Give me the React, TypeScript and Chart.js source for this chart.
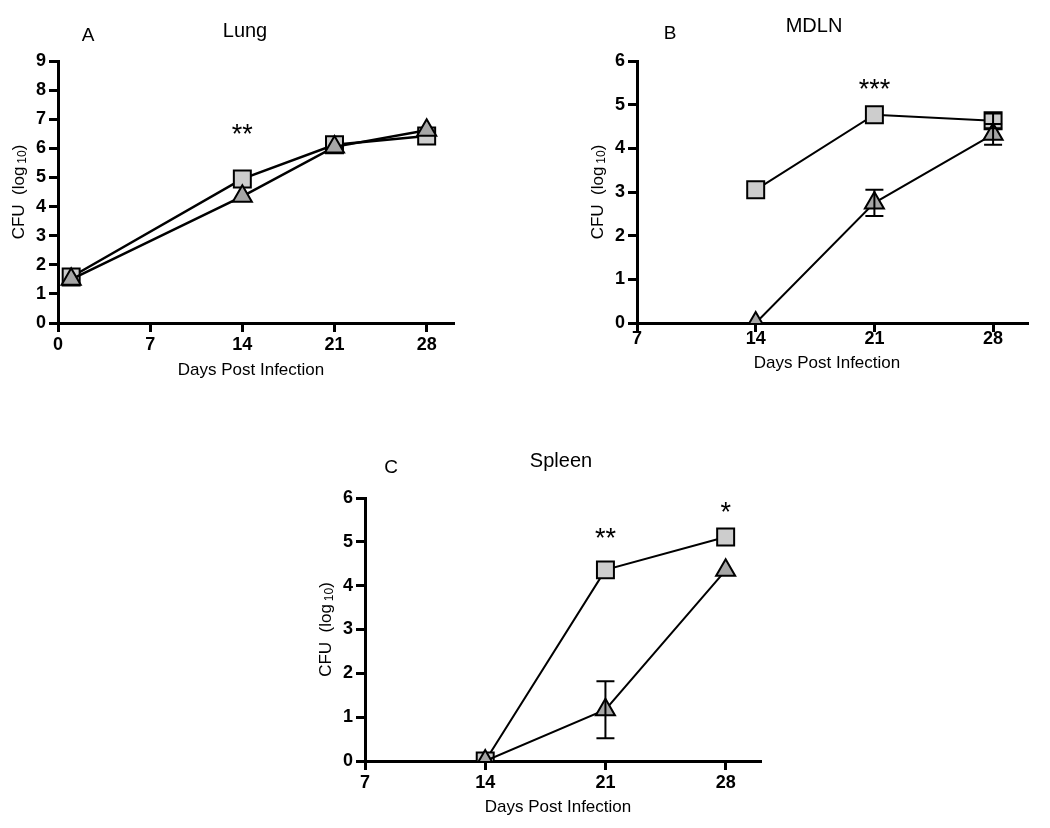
import React, { useEffect, useRef } from 'react';
import { Chart, registerables } from 'chart.js';

Chart.register(...registerables);

const FONT = '"Liberation Sans", Arial, Helvetica, sans-serif';

// ---- Data ----
const lungDays = [1, 14, 21, 28];
const lungSquare = [1.58, 4.95, 6.12, 6.42];
const lungTriangle = [1.5, 4.35, 6.05, 6.62];
const lungXTicks = [0, 7, 14, 21, 28];
const lungYTicks = [0, 1, 2, 3, 4, 5, 6, 7, 8, 9];

const mdlnDays = [14, 21, 28];
const mdlnSquare = [3.05, 4.77, 4.63];
const mdlnSquareErr = [0, 0, 0.17];
const mdlnTriangle = [0, 2.75, 4.32];
const mdlnTriangleErr = [0, 0.3, 0.24];
const mdlnXTicks = [7, 14, 21, 28];
const mdlnYTicks = [0, 1, 2, 3, 4, 5, 6];

const spleenDays = [14, 21, 28];
const spleenSquare = [0, 4.36, 5.11];
const spleenTriangle = [0, 1.17, 4.35];
const spleenTriangleErr = [0, 0.65, 0];
const spleenXTicks = [7, 14, 21, 28];
const spleenYTicks = [0, 1, 2, 3, 4, 5, 6];

const lungStars = [{ x: 14, y: 6.73, text: '**' }];
const mdlnStars = [{ x: 21, y: 5.5, text: '***' }];
const spleenStars = [
  { x: 21, y: 5.23, text: '**' },
  { x: 28, y: 5.84, text: '*' },
];

type Star = { x: number; y: number; text: string };
type Err = { days: number[]; vals: number[]; err: number[] };

type Panel = {
  title: string;
  letter: string;
  days: number[];
  square: number[];
  triangle: number[];
  errors: Err[];
  stars: Star[];
  xMin: number;
  xMax: number;
  yMax: number;
  xTicks: number[];
  yTicks: number[];
  lineWidth: number;
  xTickPad: number;
  area: { left: number; right: number; top: number; bottom: number };
  titlePos: [number, number];
  letterPos: [number, number];
  xTitlePos: [number, number];
};

const W = 1050;
const H = 828;
const Y_W = 50;
const X_H = 40;

const panels: Panel[] = [
  {
    title: 'Lung',
    letter: 'A',
    days: lungDays,
    square: lungSquare,
    triangle: lungTriangle,
    errors: [],
    stars: lungStars,
    xMin: 0,
    xMax: 30,
    yMax: 9,
    xTicks: lungXTicks,
    yTicks: lungYTicks,
    lineWidth: 2.5,
    xTickPad: 2,
    area: { left: 58, right: 453, top: 61, bottom: 323 },
    titlePos: [245, 31],
    letterPos: [88, 36],
    xTitlePos: [251, 370],
  },
  {
    title: 'MDLN',
    letter: 'B',
    days: mdlnDays,
    square: mdlnSquare,
    triangle: mdlnTriangle,
    errors: [
      { days: mdlnDays, vals: mdlnSquare, err: mdlnSquareErr },
      { days: mdlnDays, vals: mdlnTriangle, err: mdlnTriangleErr },
    ],
    stars: mdlnStars,
    xMin: 7,
    xMax: 30,
    yMax: 6,
    xTicks: mdlnXTicks,
    yTicks: mdlnYTicks,
    lineWidth: 2,
    xTickPad: -4,
    area: { left: 637, right: 1027, top: 61, bottom: 323 },
    titlePos: [814, 26],
    letterPos: [670, 34],
    xTitlePos: [827, 363],
  },
  {
    title: 'Spleen',
    letter: 'C',
    days: spleenDays,
    square: spleenSquare,
    triangle: spleenTriangle,
    errors: [{ days: spleenDays, vals: spleenTriangle, err: spleenTriangleErr }],
    stars: spleenStars,
    xMin: 7,
    xMax: 30,
    yMax: 6,
    xTicks: spleenXTicks,
    yTicks: spleenYTicks,
    lineWidth: 2,
    xTickPad: 2,
    area: { left: 365, right: 760, top: 498, bottom: 761 },
    titlePos: [561, 461],
    letterPos: [391, 468],
    xTitlePos: [558, 807],
  },
];

function makePlugin(p: Panel) {
  return {
    id: 'annot',
    afterDatasetsDraw(chart: any) {
      const { ctx, chartArea } = chart;
      const xs = chart.scales.x;
      const ys = chart.scales.y;
      ctx.save();
      // error bars
      ctx.strokeStyle = '#000';
      ctx.lineWidth = 2;
      p.errors.forEach((e) => {
        e.days.forEach((d, i) => {
          const er = e.err[i];
          if (!er) return;
          const px = xs.getPixelForValue(d);
          const t = ys.getPixelForValue(e.vals[i] + er);
          const b = ys.getPixelForValue(e.vals[i] - er);
          ctx.beginPath();
          ctx.moveTo(px, t);
          ctx.lineTo(px, b);
          ctx.moveTo(px - 9, t);
          ctx.lineTo(px + 9, t);
          ctx.moveTo(px - 9, b);
          ctx.lineTo(px + 9, b);
          ctx.stroke();
        });
      });
      // significance stars
      ctx.fillStyle = '#000';
      ctx.textAlign = 'center';
      ctx.textBaseline = 'alphabetic';
      ctx.font = `27px ${FONT}`;
      p.stars.forEach((s) => {
        const px = xs.getPixelForValue(s.x);
        const py = ys.getPixelForValue(s.y);
        ctx.fillText(s.text, px, py + 15.5);
      });
      // titles
      ctx.textBaseline = 'middle';
      ctx.font = `20px ${FONT}`;
      ctx.fillText(p.title, p.titlePos[0], p.titlePos[1]);
      ctx.font = `19px ${FONT}`;
      ctx.fillText(p.letter, p.letterPos[0], p.letterPos[1]);
      ctx.font = `17px ${FONT}`;
      ctx.fillText('Days Post Infection', p.xTitlePos[0], p.xTitlePos[1]);
      // y title with subscript
      const cy = (chartArea.top + chartArea.bottom) / 2;
      const bx = chartArea.left - 34;
      ctx.translate(bx, cy);
      ctx.rotate(-Math.PI / 2);
      ctx.textBaseline = 'alphabetic';
      ctx.textAlign = 'left';
      const main = 'CFU  (log';
      ctx.font = `17px ${FONT}`;
      const w1 = ctx.measureText(main).width;
      const w3 = ctx.measureText(')').width;
      ctx.font = `12px ${FONT}`;
      const w2 = ctx.measureText('10').width;
      const gap = 3;
      const total = w1 + gap + w2 + w3;
      let x0 = -total / 2;
      ctx.font = `17px ${FONT}`;
      ctx.fillText(main, x0, 0);
      x0 += w1 + gap;
      ctx.font = `12px ${FONT}`;
      ctx.fillText('10', x0, 2);
      x0 += w2;
      ctx.font = `17px ${FONT}`;
      ctx.fillText(')', x0, 0);
      ctx.restore();
    },
  };
}

function makeConfig(p: Panel): any {
  const sq = p.days.map((d, i) => ({ x: d, y: p.square[i] }));
  const tr = p.days.map((d, i) => ({ x: d, y: p.triangle[i] }));
  const clip = { left: false, right: false, top: false, bottom: 0 };
  const tickFont = { family: FONT, size: 18, weight: 'bold' as const };
  return {
    type: 'line',
    data: {
      datasets: [
        {
          label: 'square',
          data: sq,
          order: 1,
          borderColor: '#000',
          borderWidth: p.lineWidth,
          pointStyle: 'rect',
          pointRadius: 12,
          pointBackgroundColor: '#cdcdcd',
          pointBorderColor: '#000',
          pointBorderWidth: 2,
          fill: false,
          tension: 0,
          clip,
        },
        {
          label: 'triangle',
          data: tr,
          order: 0,
          borderColor: '#000',
          borderWidth: p.lineWidth,
          pointStyle: 'triangle',
          pointRadius: 11,
          pointBackgroundColor: '#a6a6a6',
          pointBorderColor: '#000',
          pointBorderWidth: 2,
          fill: false,
          tension: 0,
          clip,
        },
      ],
    },
    options: {
      responsive: false,
      animation: false,
      events: [],
      layout: {
        padding: {
          left: p.area.left - Y_W,
          right: W - p.area.right,
          top: p.area.top,
          bottom: H - p.area.bottom - X_H,
        },
      },
      plugins: {
        legend: { display: false },
        tooltip: { enabled: false },
        title: { display: false },
      },
      scales: {
        x: {
          type: 'linear',
          min: p.xMin,
          max: p.xMax,
          afterBuildTicks: (s: any) => {
            s.ticks = p.xTicks.map((v) => ({ value: v }));
          },
          afterFit: (s: any) => {
            s.height = X_H;
          },
          ticks: {
            font: tickFont,
            color: '#000',
            padding: p.xTickPad,
            maxRotation: 0,
            autoSkip: false,
          },
          grid: {
            drawOnChartArea: false,
            drawTicks: true,
            tickLength: 9,
            color: '#000',
            lineWidth: 3,
          },
          border: { display: true, color: '#000', width: 3 },
        },
        y: {
          type: 'linear',
          min: 0,
          max: p.yMax,
          afterBuildTicks: (s: any) => {
            s.ticks = p.yTicks.map((v) => ({ value: v }));
          },
          afterFit: (s: any) => {
            s.width = Y_W;
          },
          ticks: {
            font: tickFont,
            color: '#000',
            padding: 3,
            autoSkip: false,
          },
          grid: {
            drawOnChartArea: false,
            drawTicks: true,
            tickLength: 9,
            color: '#000',
            lineWidth: 3,
          },
          border: { display: true, color: '#000', width: 3 },
        },
      },
    },
    plugins: [makePlugin(p)],
  };
}

function PanelChart({ p }: { p: Panel }) {
  const ref = useRef<HTMLCanvasElement | null>(null);
  useEffect(() => {
    if (!ref.current) return;
    const chart = new Chart(ref.current, makeConfig(p));
    return () => chart.destroy();
  }, [p]);
  return (
    <canvas
      ref={ref}
      width={W}
      height={H}
      style={{ position: 'absolute', left: 0, top: 0, width: W, height: H }}
    />
  );
}

export default function App() {
  return (
    <div
      style={{
        position: 'fixed',
        left: 0,
        top: 0,
        width: W,
        height: H,
        background: '#fff',
        overflow: 'hidden',
      }}
    >
      {panels.map((p) => (
        <PanelChart key={p.letter} p={p} />
      ))}
    </div>
  );
}
